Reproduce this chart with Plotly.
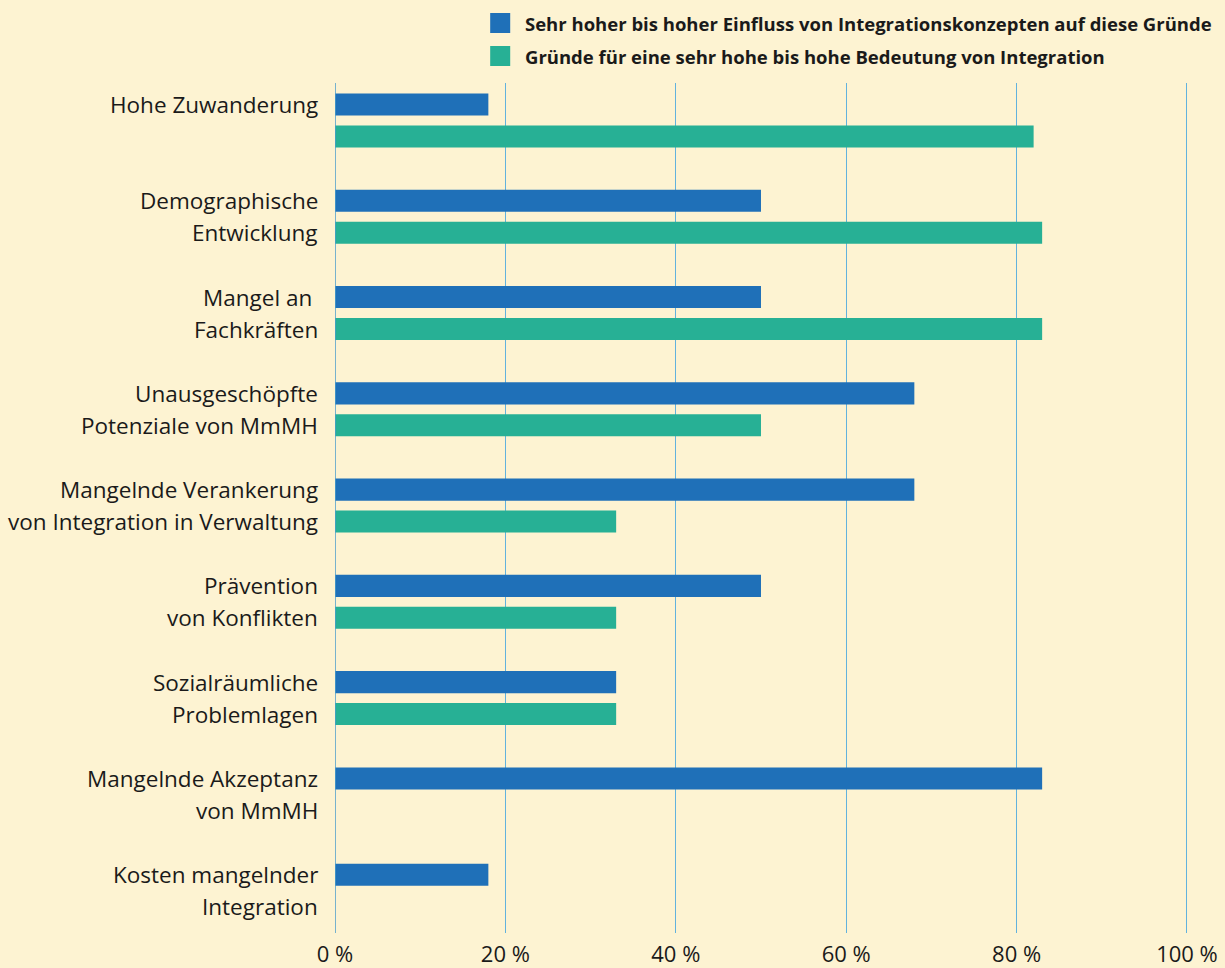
import plotly.graph_objects as go

categories = [
    "Hohe Zuwanderung",
    "Demographische Entwicklung",
    "Mangel an Fachkräften",
    "Unausgeschöpfte Potenziale von MmMH",
    "Mangelnde Verankerung von Integration in Verwaltung",
    "Prävention von Konflikten",
    "Sozialräumliche Problemlagen",
    "Mangelnde Akzeptanz von MmMH",
    "Kosten mangelnder Integration",
]
label_lines = [
    ["Hohe Zuwanderung", ""],
    ["Demographische", "Entwicklung"],
    ["Mangel an ", "Fachkräften"],
    ["Unausgeschöpfte", "Potenziale von MmMH"],
    ["Mangelnde Verankerung", "von Integration in Verwaltung"],
    ["Prävention", "von Konflikten"],
    ["Sozialräumliche", "Problemlagen"],
    ["Mangelnde Akzeptanz", "von MmMH"],
    ["Kosten mangelnder", "Integration"],
]
einfluss = [18, 50, 50, 68, 68, 50, 33, 83, 18]
bedeutung = [82, 83, 83, 50, 33, 33, 33, None, None]
series_names = [
    "Sehr hoher bis hoher Einfluss von Integrationskonzepten auf diese Gründe",
    "Gründe für eine sehr hohe bis hohe Bedeutung von Integration",
]
tick_vals = [0, 20, 40, 60, 80, 100]
tick_text = ["0 %", "20 %", "40 %", "60 %", "80 %", "100 %"]

BLUE = "#1F70B8"
GREEN = "#27B095"
BG = "#FDF3D2"
GRID = "#62B2DD"
TEXT = "#1a1a1a"
colors = [BLUE, GREEN]

fig = go.Figure()
fig.add_trace(go.Bar(y=categories, x=einfluss, orientation="h", name=series_names[0],
                     marker=dict(color=BLUE, line=dict(width=0)), showlegend=False))
fig.add_trace(go.Bar(y=categories, x=bedeutung, orientation="h", name=series_names[1],
                     marker=dict(color=GREEN, line=dict(width=0)), showlegend=False))

for cat, lines in zip(categories, label_lines):
    for i, line in enumerate(lines):
        if not line:
            continue
        fig.add_annotation(
            x=0, xref="paper", xanchor="right", xshift=-15,
            y=cat, yref="y", yanchor="middle", yshift=16 if i == 0 else -16,
            text=line, showarrow=False,
            font=dict(family="Open Sans", size=22.5, color=TEXT),
        )

# legend (key squares + bold texts)
legend_y = [23, 56]
for name, col, yc in zip(series_names, colors, legend_y):
    fig.add_shape(type="rect", xref="paper", yref="paper",
                  x0=(490 - 335) / 852, x1=(510 - 335) / 852,
                  y0=(968 - 35 - (yc + 10)) / 850, y1=(968 - 35 - (yc - 10)) / 850,
                  fillcolor=col, line=dict(width=0))
    fig.add_annotation(x=(523 - 335) / 852, xref="paper", xanchor="left",
                       y=(968 - 35 - yc) / 850, yref="paper", yanchor="middle",
                       text="<b>" + name + "</b>", showarrow=False,
                       font=dict(family="Open Sans", size=18.5, color=TEXT))

fig.update_layout(
    width=1225, height=968,
    paper_bgcolor=BG, plot_bgcolor=BG,
    barmode="group", bargap=0.336, bargroupgap=0.31,
    margin=dict(l=335, r=37, t=83, b=35, autoexpand=False),
    font=dict(family="Open Sans", color=TEXT),
    showlegend=False,
    xaxis=dict(
        range=[0, 100.12], tickmode="array", tickvals=tick_vals, ticktext=tick_text,
        showgrid=True, gridcolor=GRID, gridwidth=1,
        zeroline=False, showline=False, ticks="", ticklabelstandoff=6,
        tickfont=dict(family="Open Sans", size=22, color=TEXT),
        fixedrange=True,
    ),
    yaxis=dict(
        categoryorder="array", categoryarray=categories,
        range=[8.44, -0.39], showticklabels=False, showgrid=False,
        zeroline=False, showline=False, ticks="", fixedrange=True,
    ),
)
fig.add_shape(type="line", xref="x", yref="paper", x0=0, x1=0, y0=0, y1=1,
              line=dict(color="#4A9CCB", width=1.5))

fig.write_html("out.html", config={"displayModeBar": False},
               post_script="document.body.style.margin='0';")
